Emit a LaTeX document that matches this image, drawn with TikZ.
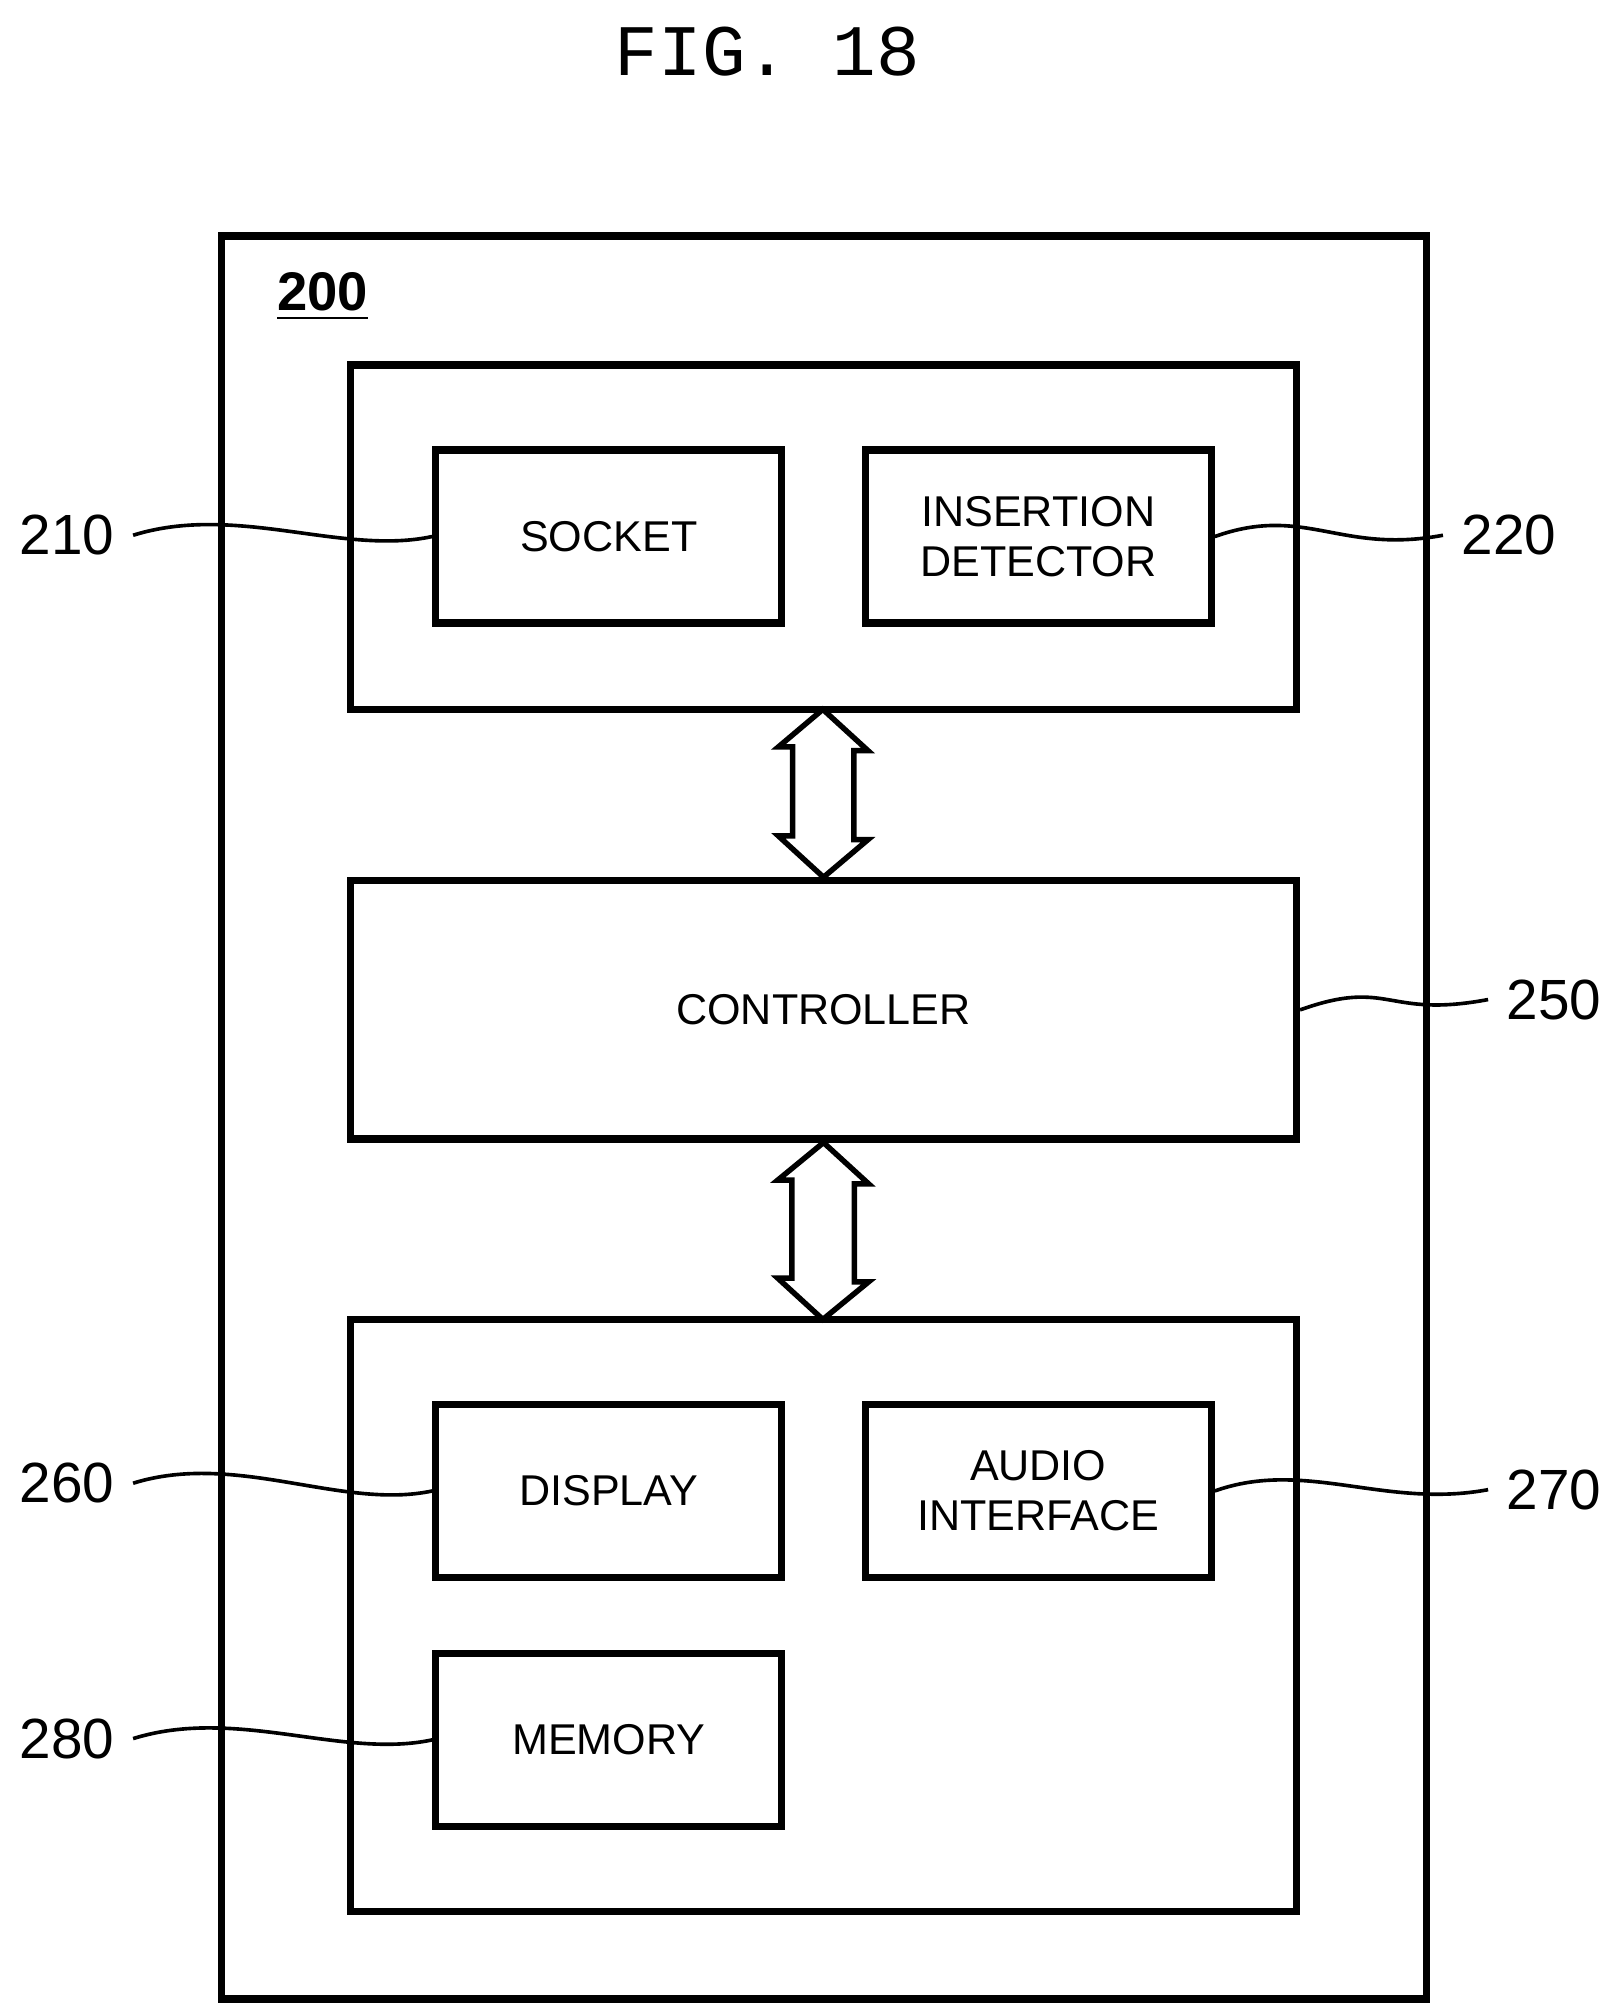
\documentclass[tikz,border=0pt]{standalone}
\usepackage{fontspec}
\setmainfont{Liberation Sans}
\newfontfamily\monofig{Liberation Mono}
\usetikzlibrary{positioning}
\begin{document}
\begin{tikzpicture}[x=0.01cm,y=-0.01cm,line width=1.6pt]
  \tikzstyle{blk}=[draw,minimum width=2.68cm,minimum height=1.34cm,align=center,font=\fontsize{9.5}{11}\selectfont,inner sep=0pt]
  \tikzstyle{grp}=[draw,inner sep=0pt]
  \tikzstyle{num}=[font=\fontsize{12.5}{14}\selectfont]
  \tikzstyle{wave}=[line width=0.8pt]
  \useasboundingbox (0,0) rectangle (1250,1560);

  % title and outer frame
  \node [font=\monofig\fontsize{16}{18}\selectfont] (title) at (595,40) {FIG. 18};
  \draw (172,183) rectangle (1106,1550);
  \node [font=\bfseries\fontsize{12}{14}\selectfont] (n200) at (250,230) {\underline{200}};

  % top group
  \draw (272,283) rectangle (1005,550);
  \coordinate (topS) at (638,550);
  \node [blk] (socket) at (472,416) {SOCKET};
  \node [blk] (detector) at (805,416) {INSERTION\\DETECTOR};

  % controller
  \node [grp,minimum width=7.33cm,minimum height=2cm,font=\fontsize{9.5}{11}\selectfont] (ctrl) at (638.5,783) {CONTROLLER};

  % bottom group
  \draw (272,1023) rectangle (1005,1482);
  \coordinate (botN) at (638,1023);
  \node [blk] (display) at (472,1156) {DISPLAY};
  \node [blk] (audio) at (805,1156) {AUDIO\\INTERFACE};
  \node [blk] (memory) at (472,1349) {MEMORY};

  % double arrows
  \draw [line width=1.2pt] (topS) -- ++(35,32) -- ++(-11,0) -- ++(0,69) -- ++(11,0) -- (ctrl.north)
     -- ++(-35,-32) -- ++(11,0) -- ++(0,-69) -- ++(-11,0) -- cycle;
  \draw [line width=1.2pt] (ctrl.south) -- ++(35,32) -- ++(-11,0) -- ++(0,76) -- ++(11,0) -- (botN)
     -- ++(-35,-32) -- ++(11,0) -- ++(0,-76) -- ++(-11,0) -- cycle;

  % reference numbers
  \node [num] (l210) at (52,415) {210};
  \node [num] (l220) at (1170,415) {220};
  \node [num] (l250) at (1205,775) {250};
  \node [num] (l260) at (52,1150) {260};
  \node [num] (l270) at (1205,1155) {270};
  \node [num] (l280) at (52,1348) {280};
  \draw [wave] (l210.east) .. controls +(80,-25) and +(-70,15) .. (socket.west);
  \draw [wave] (detector.east) .. controls +(70,-25) and +(-80,15) .. (l220.west);
  \draw [wave] (ctrl.east) .. controls +(70,-25) and +(-80,15) .. (l250.west);
  \draw [wave] (l260.east) .. controls +(80,-25) and +(-70,15) .. (display.west);
  \draw [wave] (audio.east) .. controls +(70,-25) and +(-80,15) .. (l270.west);
  \draw [wave] (l280.east) .. controls +(80,-25) and +(-70,15) .. (memory.west);
\end{tikzpicture}
\end{document}
